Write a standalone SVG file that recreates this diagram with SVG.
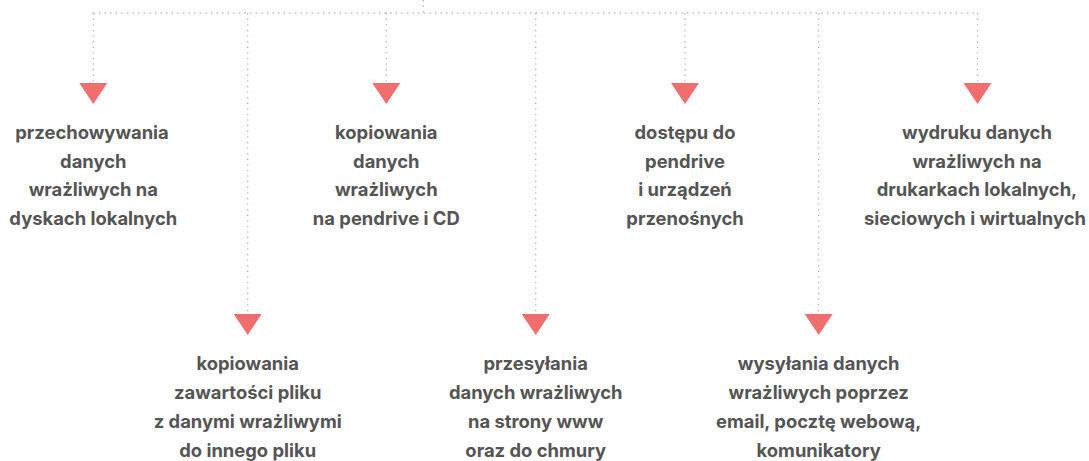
<svg xmlns="http://www.w3.org/2000/svg" width="1089" height="461" viewBox="0 0 1089 461">
<style>
.c{fill:none;stroke:#b5b5b5;stroke-width:1.3;stroke-dasharray:1.4 4.2}
.a{fill:#f06e6e}
.t{font-family:Inter,"Liberation Sans",sans-serif;font-weight:700;font-size:18.4px;fill:#555555;text-anchor:middle}
</style>
<rect width="1089" height="461" fill="#ffffff"/>
<g id="connectors">
<path class="c" d="M423.3 0V13M93.3 13H977.5"/>
<path class="c" d="M93.3 13V83M386.3 13V83M685 13V83M977.5 13V83"/>
<path class="c" d="M247.7 13V314M535.7 13V314M818.7 13V314"/>
</g>
<g id="n1">
<polygon class="a" points="79.3,83 107.3,83 93.3,104"/>
<text class="t"><tspan x="92" y="139">przechowywania</tspan><tspan x="93.3" y="167.7">danych</tspan><tspan x="93.3" y="196.3">wrażliwych na</tspan><tspan x="93.3" y="225">dyskach lokalnych</tspan></text>
</g>
<g id="n2">
<polygon class="a" points="372.3,83 400.3,83 386.3,104"/>
<text class="t"><tspan x="386.3" y="139">kopiowania</tspan><tspan x="386.3" y="167.7">danych</tspan><tspan x="386.3" y="196.3">wrażliwych</tspan><tspan x="386.3" y="225">na pendrive i CD</tspan></text>
</g>
<g id="n3">
<polygon class="a" points="671,83 699,83 685,104"/>
<text class="t"><tspan x="685" y="139">dostępu do</tspan><tspan x="685" y="167.7">pendrive</tspan><tspan x="685" y="196.3">i urządzeń</tspan><tspan x="685" y="225">przenośnych</tspan></text>
</g>
<g id="n4">
<polygon class="a" points="963.5,83 991.5,83 977.5,104"/>
<text class="t"><tspan x="977" y="139">wydruku danych</tspan><tspan x="977" y="167.7">wrażliwych na</tspan><tspan x="977" y="196.3">drukarkach lokalnych,</tspan><tspan x="975" y="225">sieciowych i wirtualnych</tspan></text>
</g>
<g id="n5">
<polygon class="a" points="233.7,314 261.7,314 247.7,335"/>
<text class="t"><tspan x="247.7" y="370">kopiowania</tspan><tspan x="247.7" y="399">zawartości pliku</tspan><tspan x="247.7" y="428">z danymi wrażliwymi</tspan><tspan x="247.7" y="456.7">do innego pliku</tspan></text>
</g>
<g id="n6">
<polygon class="a" points="521.7,314 549.7,314 535.7,335"/>
<text class="t"><tspan x="535.7" y="370">przesyłania</tspan><tspan x="535.7" y="399">danych wrażliwych</tspan><tspan x="535.7" y="428">na strony www</tspan><tspan x="535.7" y="456.7">oraz do chmury</tspan></text>
</g>
<g id="n7">
<polygon class="a" points="804.7,314 832.7,314 818.7,335"/>
<text class="t"><tspan x="818.7" y="370">wysyłania danych</tspan><tspan x="818.7" y="399">wrażliwych poprzez</tspan><tspan x="818.7" y="428">email, pocztę webową,</tspan><tspan x="818.7" y="456.7">komunikatory</tspan></text>
</g>
</svg>
